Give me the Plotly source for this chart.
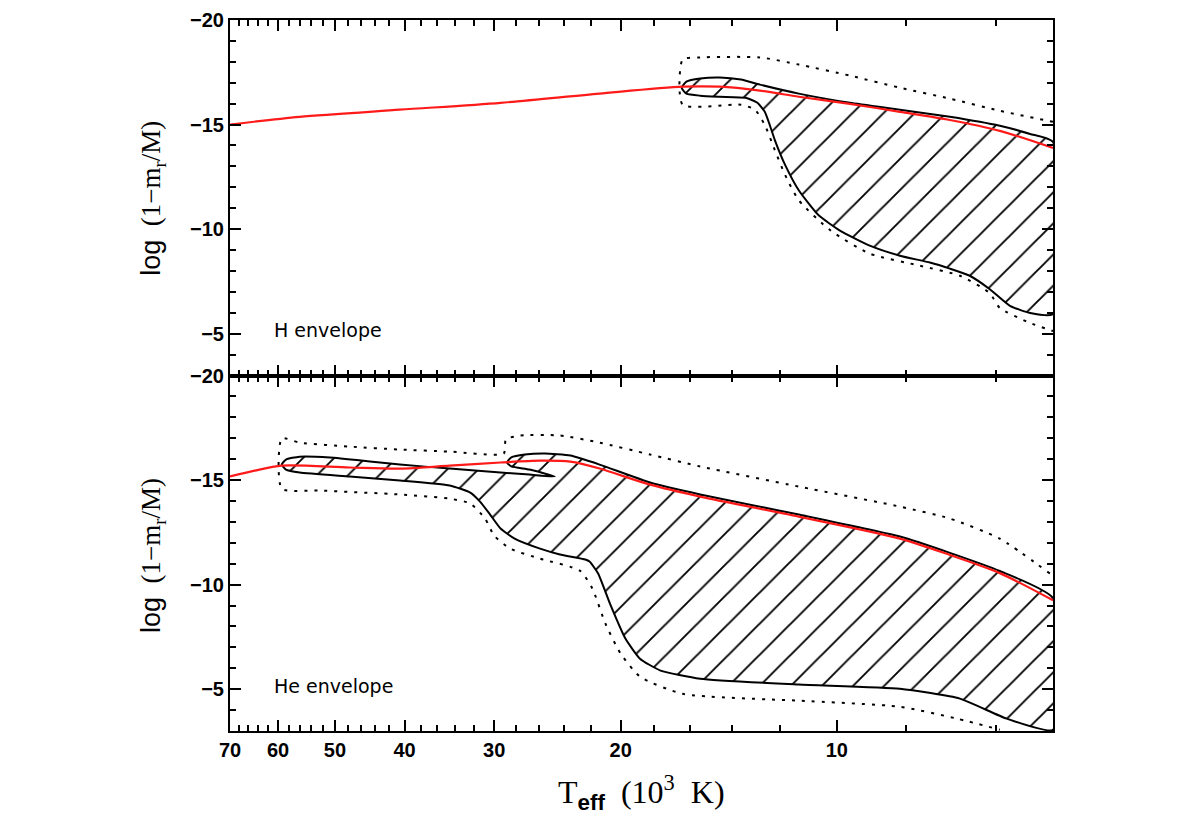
import plotly.graph_objects as go
from plotly.subplots import make_subplots

# T_eff in units of 10^3 K ; depth as log(1 - m_r/M)

# ---- H envelope (top panel)
h_red_teff = [70, 56.0, 40.6, 29.4, 21.4, 16.4, 14.55, 12.8, 11.3, 9.59, 8.17, 6.96, 5.93, 5.0]
h_red_logq = [-15.0, -15.37, -15.71, -16.04, -16.48, -16.81, -16.81, -16.62, -16.33, -15.99, -15.61, -15.22, -14.70, -13.88]

h_cz_teff = [16.45, 16.2, 15.5, 14.55, 13.6, 12.8, 11.3, 9.59, 8.17, 6.96, 5.93, 5.38, 5.0,
             5.0, 5.38, 5.74, 6.13, 6.53, 6.96, 7.42, 8.17, 9.0, 9.9, 10.6, 11.3, 11.8, 12.2, 12.4,
             12.6, 12.9, 13.4, 14.55, 15.5, 16.2, 16.45]
h_cz_logq = [-16.76, -17.05, -17.2, -17.25, -17.15, -16.91, -16.48, -16.04, -15.71, -15.37, -14.94, -14.55, -14.17,
             -5.94, -5.99, -6.33, -7.14, -7.77, -8.11, -8.40, -8.73, -9.21, -9.93, -10.66, -11.86, -13.06, -14.26, -14.98,
             -15.61, -16.04, -16.28, -16.33, -16.38, -16.48, -16.76]

h_dot_teff = [5.0, 5.93, 6.96, 8.17, 9.59, 11.3, 12.8, 15.5, 16.4, 16.4, 13.6, 13.0, 12.6, 12.2, 11.8, 11.3,
              10.2, 9.0, 7.66, 6.74, 6.13, 5.93, 5.38, 5.0]
h_dot_logq = [-15.13, -15.66, -16.24, -16.76, -17.34, -17.87, -18.21, -18.21, -18.11, -15.95, -15.95, -15.71,
              -14.98, -13.78, -12.58, -11.38, -9.93, -8.83, -8.25, -7.77, -6.95, -6.23, -5.51, -5.13]

# ---- He envelope (bottom panel)
he_red_teff = [70, 64.7, 59.3, 47.7, 40.6, 34.6, 29.4, 25.9, 23.5, 21.4, 18.2, 15.5, 11.3, 8.17, 6.96, 5.93, 5.0]
he_red_logq = [-15.17, -15.45, -15.69, -15.6, -15.55, -15.69, -15.84, -15.93, -15.88, -15.55, -14.78, -14.21,
               -13.25, -12.2, -11.42, -10.55, -9.25]

he_cz_teff = [59.3, 58.5, 56.0, 50.8, 44.7, 40.6, 34.6, 29.4, 26.8, 24.7,
              26.8, 28.4, 28.8, 28.4, 27.2, 25.5, 23.5, 21.4, 18.2, 15.5, 11.3, 8.17, 6.96, 5.93, 5.0,
              5.0, 5.8, 6.74, 8.17, 11.3, 15.5, 17.6, 18.8, 19.7, 20.7, 21.5, 22.1, 22.4, 24.3, 25.9,
              28.1, 29.4, 30.4, 31.4, 32.4, 34.6, 40.6, 47.7, 56.0, 58.5, 59.3]
he_cz_logq = [-15.74, -15.98, -16.12, -16.08, -15.89, -15.74, -15.55, -15.36, -15.26, -15.17,
              -15.5, -15.65, -15.84, -16.08, -16.22, -16.27, -16.17, -15.74, -14.88, -14.31, -13.35, -12.3, -11.52,
              -10.65, -9.35,
              -3.06, -3.59, -4.55, -5.02, -5.22, -5.5, -5.89, -6.46, -7.42, -9.09, -10.53, -11.1, -11.2, -11.44,
              -11.72, -12.2, -12.68, -13.35, -13.97, -14.4, -14.74, -14.98, -15.17, -15.36, -15.5, -15.74]

he_dot_teff = [5.05, 5.93, 6.96, 8.17, 11.3, 15.5, 18.2, 21.4, 24.3, 27.6, 28.9, 29.1, 34.6, 40.6, 47.7, 56.0,
               59.3, 59.3, 52.5, 40.6, 34.6, 32.4, 30.9, 30.0, 28.5, 25.9, 22.8, 21.9, 21.0, 20.0, 18.8, 16.4,
               11.3, 8.17, 6.8, 5.93]
he_dot_logq = [-10.53, -12.2, -13.16, -13.73, -14.69, -15.65, -16.22, -16.79, -17.13, -17.13, -16.94, -16.27,
               -16.36, -16.46, -16.6, -16.79, -16.99, -14.59, -14.5, -14.31, -14.11, -13.88, -13.16, -12.34,
               -11.72, -11.24, -10.67, -9.81, -8.13, -6.7, -5.6, -4.78, -4.45, -4.16, -3.59, -3.06]

panel_labels = ["H envelope", "He envelope"]

x_major = [70, 60, 50, 40, 30, 20, 10]
x_minor = [t for t in range(6, 70, 2) if t % 10 != 0]
y_major = [-20, -15, -10, -5]
y_major_text = ["\u221220", "\u221215", "\u221210", "\u22125"]

fig = make_subplots(rows=2, cols=1, shared_xaxes=True, vertical_spacing=0)

panels = [
    (h_cz_teff, h_cz_logq, h_dot_teff, h_dot_logq, h_red_teff, h_red_logq),
    (he_cz_teff, he_cz_logq, he_dot_teff, he_dot_logq, he_red_teff, he_red_logq),
]

for i, (czx, czy, dx, dy, rx, ry) in enumerate(panels, start=1):
    fig.add_trace(go.Scatter(
        x=czx, y=czy, mode="lines", fill="toself",
        line=dict(color="black", width=2, shape="spline", smoothing=0.5),
        fillcolor="white",
        fillpattern=dict(shape="/", size=22, solidity=0.085, fgcolor="black", bgcolor="white", fgopacity=1),
        hoverinfo="skip", showlegend=False), row=i, col=1)
    fig.add_trace(go.Scatter(
        x=dx, y=dy, mode="lines",
        line=dict(color="black", width=2, dash="3px,7px", shape="spline", smoothing=0.6),
        showlegend=False), row=i, col=1)
    fig.add_trace(go.Scatter(
        x=rx, y=ry, mode="lines",
        line=dict(color="#ff1a1a", width=2.2, shape="spline", smoothing=0.8),
        showlegend=False), row=i, col=1)

tickfont = dict(family="Liberation Sans", size=20, color="black", weight="bold")

axis_common = dict(showline=True, linecolor="black", linewidth=2, mirror="ticks", automargin=False,
                   ticks="inside", tickcolor="black", tickwidth=2, showgrid=False, zeroline=False)

for r in (1, 2):
    fig.update_xaxes(type="log", range=[1.8451, 0.69897], tickmode="array", tickvals=x_major,
                     ticktext=[str(v) for v in x_major], ticklen=11,
                     minor=dict(tickmode="array", tickvals=x_minor, ticks="inside", ticklen=6,
                                tickwidth=2, tickcolor="black", showgrid=False),
                     showticklabels=(r == 2), tickfont=tickfont, row=r, col=1, **axis_common)
    fig.update_yaxes(range=[-3, -20], tickmode="array", tickvals=y_major, ticktext=y_major_text,
                     ticklen=11, minor=dict(dtick=1, ticks="inside", ticklen=6, tickwidth=2,
                                            tickcolor="black", showgrid=False),
                     tickfont=tickfont, row=r, col=1, **axis_common)

ytitle = ("<span style='font-family:Liberation Sans'>log</span>  (1\u2212m<sub>r</sub>/M)")
for yc in (0.75, 0.2475):
    fig.add_annotation(text=ytitle, xref="paper", yref="paper", x=-0.0936, y=yc,
                       textangle=-90, showarrow=False, xanchor="center", yanchor="middle",
                       font=dict(family="Liberation Serif", size=27, color="black"))

fig.add_annotation(text="T<sub><span style='font-family:Liberation Sans;font-weight:bold'>eff</span></sub>  (10<sup>3</sup>  K)",
                   xref="paper", yref="paper", x=0.5, y=-0.087, showarrow=False,
                   xanchor="center", yanchor="middle",
                   font=dict(family="Liberation Serif", size=32, color="black"))

for lab, yref in zip(panel_labels, ("y domain", "y2 domain")):
    fig.add_annotation(text=lab, xref="x domain", yref=yref, x=0.051, y=0.127,
                       xanchor="left", yanchor="middle", showarrow=False,
                       font=dict(family="DejaVu Sans", size=19, color="black"))

# page body adds an 8px margin, so the figure is 16px smaller than the window
fig.update_layout(width=1180, height=809, plot_bgcolor="white", paper_bgcolor="white",
                  margin=dict(l=222, r=135, t=12, b=86, autoexpand=False), showlegend=False)

fig.write_html("out.html")
